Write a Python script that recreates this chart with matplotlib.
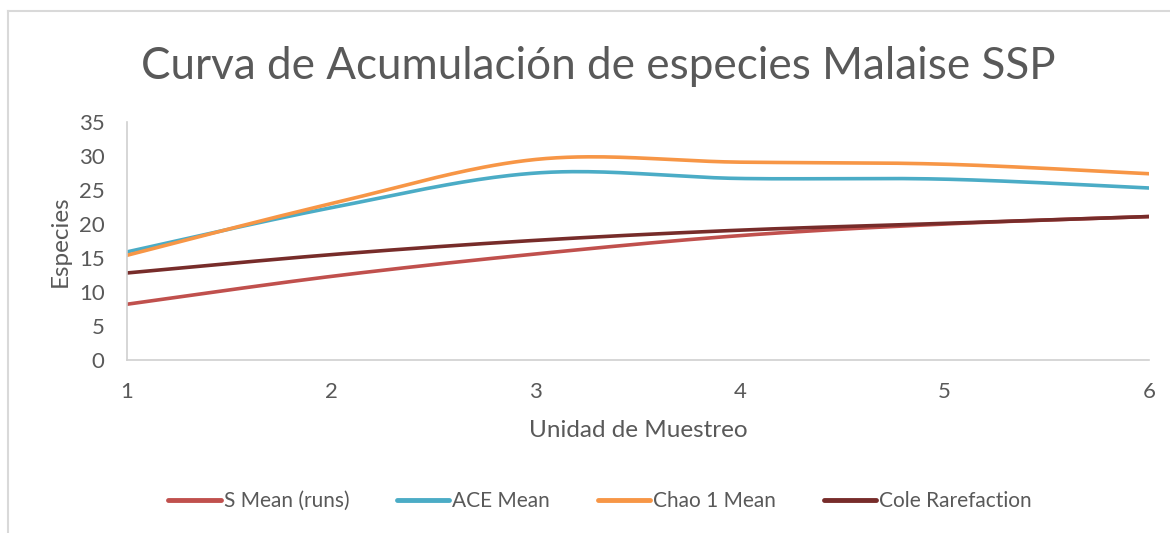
import numpy as np
import matplotlib.pyplot as plt
from matplotlib.lines import Line2D

# Data
unidades = [1, 2, 3, 4, 5, 6]
s_mean = [8.2, 12.3, 15.6, 18.3, 20.0, 21.1]
ace_mean = [15.9, 22.4, 27.5, 26.7, 26.6, 25.3]
chao1_mean = [15.4, 23.0, 29.5, 29.1, 28.8, 27.4]
cole_rarefaction = [12.8, 15.5, 17.6, 19.1, 20.1, 21.1]

series_names = ['S Mean (runs)', 'ACE Mean', 'Chao 1 Mean', 'Cole Rarefaction']
series_colors = ['#C0504D', '#4BACC6', '#F79646', '#772C2A']

plt.rcParams['font.family'] = ['Lato', 'DejaVu Sans']
text_color = '#595959'


def smooth(x, y, n=40):
    # Excel-style smoothed line: cubic Bezier through each point pair
    x = np.asarray(x, float)
    y = np.asarray(y, float)
    pts = np.column_stack([x, y])
    out = []
    t = np.linspace(0, 1, n)[:, None]
    for i in range(len(pts) - 1):
        p0 = pts[i]
        p3 = pts[i + 1]
        prev = pts[i - 1] if i > 0 else pts[i]
        nxt = pts[i + 2] if i + 2 < len(pts) else pts[i + 1]
        p1 = p0 + (p3 - prev) / 6
        p2 = p3 - (nxt - p0) / 6
        seg = ((1 - t) ** 3) * p0 + 3 * ((1 - t) ** 2) * t * p1 + 3 * (1 - t) * t ** 2 * p2 + t ** 3 * p3
        out.append(seg if i == 0 else seg[1:])
    out = np.vstack(out)
    return out[:, 0], out[:, 1]


fig = plt.figure(figsize=(11.7, 5.33), dpi=100)

# chart-area border (partly cropped in the screenshot)
bx = 7.5 / 1170
by = 1 - 10.5 / 533
fig.add_artist(Line2D([bx, bx], [0, by], transform=fig.transFigure, color='#D9D9D9', lw=1.5))
fig.add_artist(Line2D([bx, 1], [by, by], transform=fig.transFigure, color='#D9D9D9', lw=1.5))

ax = fig.add_axes([0.1085, 0.3246, 0.8735, 0.4464])

for vals, name, col in zip([s_mean, ace_mean, chao1_mean, cole_rarefaction], series_names, series_colors):
    sx, sy = smooth(unidades, vals)
    ax.plot(sx, sy, color=col, lw=2.6, label=name, solid_capstyle='round')

ax.set_xlim(1, 6)
ax.set_ylim(0, 35)
ax.set_yticks(range(0, 36, 5))
ax.set_xticks(unidades)
ax.tick_params(length=0, labelsize=16, colors=text_color)
ax.tick_params(axis='y', pad=16)
ax.tick_params(axis='x', pad=16)
for s in ['top', 'right']:
    ax.spines[s].set_visible(False)
for s in ['left', 'bottom']:
    ax.spines[s].set_color('#D0D0D0')
    ax.spines[s].set_linewidth(1.2)

ax.set_xlabel('Unidad de Muestreo', fontsize=17.5, color=text_color, labelpad=13)
ax.set_ylabel('Especies', fontsize=17.5, color=text_color, labelpad=6)

fig.text(0.511, 0.875, 'Curva de Acumulación de especies Malaise SSP', ha='center', va='center',
         fontsize=31.7, color=text_color)

leg = fig.legend(loc='center', bbox_to_anchor=(0.513, 0.06), ncol=4, frameon=False,
                 fontsize=15, handlelength=2.5, handletextpad=0.15, columnspacing=2.3)
for t in leg.get_texts():
    t.set_color(text_color)
for h in leg.get_lines():
    h.set_linewidth(3.5)

fig.savefig('out.png', dpi=100)
